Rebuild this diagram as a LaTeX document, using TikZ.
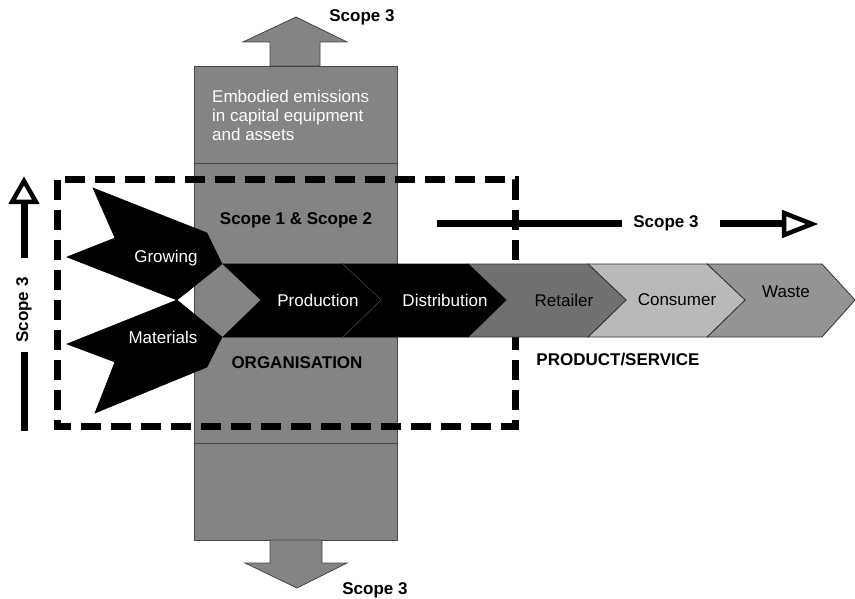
\documentclass[tikz,border=0pt]{standalone}
\usepackage{fontspec}
\setmainfont{Liberation Sans}
\definecolor{colgray}{RGB}{132,132,132}
\definecolor{colline}{RGB}{70,70,70}
\definecolor{retgray}{RGB}{112,112,112}
\definecolor{congray}{RGB}{185,185,185}
\definecolor{wasgray}{RGB}{148,148,148}
\begin{document}
\begin{tikzpicture}[x=1pt,y=-1pt,
  colbox/.style={fill=colgray,draw=colline,line width=0.8pt},
  stagedark/.style={fill=black,draw=black,line width=0.6pt},
  stagegray/.style={draw=black!80,line width=0.8pt},
  lbl/.style={inner sep=0pt,font=\fontsize{17}{19}\selectfont},
  lblb/.style={inner sep=0pt,font=\fontsize{17}{19}\selectfont\bfseries},
  thickline/.style={line width=7pt},
  openhead/.style={draw=black,fill=white,line width=4.5pt,line join=miter}]
\useasboundingbox (0,0) rectangle (855,599);

% central column: capital assets, organisation, lower block
\path[colbox] (194,163) rectangle (397,443);
\path[colbox] (194,66) rectangle (397,163);
\path[colbox] (194,443) rectangle (397,540);
\path[colbox] (270,66) -- (270,42) -- (243,42) -- (296,17) -- (347,42) -- (320,42) -- (320,66) -- cycle;
\path[colbox] (270,540) -- (270,563) -- (245,563) -- (297,588) -- (347,563) -- (322,563) -- (322,540) -- cycle;

% organisation boundary
\draw[line width=7pt,dash pattern=on 20pt off 10pt] (57,180) rectangle (515,426);

% inputs
\path[stagedark] (93,188) -- (207,233) -- (222,264) -- (177,300) -- (67,257) -- (115,238) -- cycle;
\path[stagedark] (95,413) -- (207,367) -- (222,337) -- (177,300) -- (67,344) -- (115,362) -- cycle;

% value chain
\path[stagegray,fill=wasgray] (707,264) -- (822,264) -- (855,300) -- (822,337) -- (707,337) -- (745,300) -- cycle;
\path[stagegray,fill=congray] (588,264) -- (707,264) -- (745,300) -- (707,337) -- (588,337) -- (626,300) -- cycle;
\path[stagegray,fill=retgray] (468,264) -- (588,264) -- (626,300) -- (588,337) -- (468,337) -- (506,300) -- cycle;
\path[stagedark] (343,264) -- (468,264) -- (506,300) -- (468,337) -- (343,337) -- (381,300) -- cycle;
\path[stagedark] (223,264) -- (343,264) -- (381,300) -- (343,337) -- (223,337) -- (261,300) -- cycle;
\draw[colline,line width=0.6pt] (343,264) -- (381,300) -- (343,337);

% labels
\node[lbl,anchor=north west,align=left,text=white] (emb) at (212,90)
  {Embodied emissions\\in capital equipment\\and assets};
\node[lblb] (s12) at (296,220) {Scope 1 \& Scope 2};
\node[lblb] (org) at (297,363) {ORGANISATION};
\node[lbl,text=white] (grow) at (166,258) {Growing};
\node[lbl,text=white] (mat) at (163,337) {Materials};
\node[lbl,text=white] (prod) at (318,300) {Production};
\node[lbl,text=white] (dist) at (445,300) {Distribution};
\node[lbl] (ret) at (564,300) {Retailer};
\node[lbl] (con) at (677,300) {Consumer};
\node[lbl] (was) at (786,292) {Waste};
\node[lblb] (prs) at (618,360) {PRODUCT/SERVICE};
\node[lblb] (stop) at (362,17) {Scope 3};
\node[lblb] (sbot) at (375,590) {Scope 3};
\node[lblb] (sright) at (666,223) {Scope 3};
\node[lblb,rotate=90] (sleft) at (24,310) {Scope 3};

% upstream scope 3 arrow
\coordinate (lb) at (24,431);
\coordinate (lt) at (24,200);
\draw[thickline] (lb) -- (24,352);
\draw[thickline] (24,258) -- (lt);
\path[openhead] (24,181) -- (36,202) -- (12,202) -- cycle;

% downstream scope 3 arrow
\coordinate (rs) at (437,224);
\coordinate (re) at (784,224);
\draw[thickline] (rs) -- (622,224);
\draw[thickline] (720,224) -- (re);
\path[openhead] (812,224) -- (784,213) -- (784,235) -- cycle;
\end{tikzpicture}
\end{document}
